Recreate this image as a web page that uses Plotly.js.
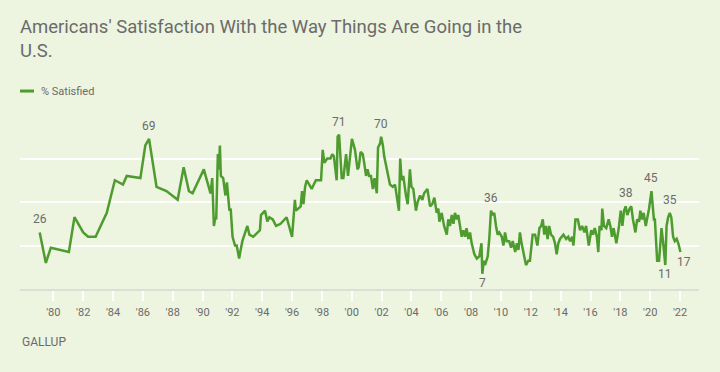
<!DOCTYPE html>
<html>
<head>
<meta charset="utf-8">
<script src="https://cdn.plot.ly/plotly-3.0.1.min.js"></script>
<style>
html,body{margin:0;padding:0;background:#EDF4DF;}
#chart{width:720px;height:372px;}
</style>
</head>
<body>
<div id="chart"></div>
<script>
// Survey dates and % satisfied
var surveyDates = [
"1979-02-01","1979-07-01","1979-11-01","1981-01-15","1981-06-01","1982-01-01","1982-05-01","1982-11-01",
"1983-08-01","1984-02-15","1984-09-01","1984-12-01","1985-11-01","1986-03-01","1986-06-01","1986-12-01",
"1987-08-01","1988-05-01","1988-09-25","1989-02-01","1989-05-01","1990-02-01","1990-07-15","1990-08-25",
"1990-10-05","1990-11-10","1990-12-01","1991-01-10","1991-02-05","1991-03-01","1991-03-25","1991-05-20",
"1991-07-15","1991-08-20","1991-10-20","1991-11-20","1992-01-05","1992-03-05","1992-04-15","1992-06-15",
"1992-07-01","1992-09-01","1993-01-01","1993-02-20","1993-05-25","1993-11-05","1993-12-01","1994-03-10",
"1994-05-05","1994-06-25","1994-09-15","1994-12-05","1995-03-25","1995-08-20","1996-01-01","1996-03-10",
"1996-04-05","1996-07-30","1996-09-01","1996-10-05","1996-11-15","1996-12-25","1997-04-25","1997-08-05",
"1997-12-10","1998-01-20","1998-03-01","1998-05-10","1998-07-30","1998-09-10","1998-10-20","1998-12-28",
"1999-01-20","1999-02-25","1999-04-30","1999-06-10","1999-08-15","1999-10-01","2000-01-05","2000-03-20",
"2000-05-20","2000-06-20","2000-08-05","2000-09-25","2000-11-01","2000-12-15","2001-01-20","2001-03-01",
"2001-04-15","2001-06-01","2001-07-10","2001-09-05","2001-10-05","2001-11-25","2001-12-20","2002-02-01",
"2002-03-05","2002-05-30","2002-07-25","2002-10-01","2002-11-25","2003-03-01","2003-04-01","2003-05-05",
"2003-06-15","2003-08-20","2003-10-01","2003-11-25","2004-01-01","2004-02-15","2004-04-20","2004-06-01",
"2004-07-30","2004-09-25","2004-11-05","2005-01-25","2005-04-01","2005-05-25","2005-07-15","2005-09-10",
"2005-10-20","2005-11-15","2006-01-10","2006-03-10","2006-05-15","2006-06-20","2006-08-01","2006-09-15",
"2006-10-25","2006-12-01","2007-01-15","2007-02-20","2007-04-05","2007-05-15","2007-06-25","2007-08-05",
"2007-09-10","2007-10-25","2007-12-05","2008-01-15","2008-03-20","2008-05-20","2008-07-20","2008-09-10",
"2008-10-01","2008-11-05","2008-12-05","2009-02-10","2009-03-20","2009-05-01","2009-06-10","2009-07-20",
"2009-09-01","2009-10-10","2009-11-20","2010-01-20","2010-03-01","2010-04-10","2010-05-20","2010-07-20",
"2010-09-05","2010-10-15","2010-12-15","2011-01-25","2011-03-05","2011-04-10","2011-05-20","2011-07-20",
"2011-09-05","2011-11-01","2011-12-10","2012-02-15","2012-04-15","2012-06-10","2012-07-30","2012-09-10",
"2012-10-20","2012-11-25","2013-01-05","2013-02-15","2013-03-25","2013-05-10","2013-07-01","2013-08-15",
"2013-09-25","2013-11-05","2013-12-15","2014-03-10","2014-05-15","2014-07-05","2014-08-20","2014-10-10",
"2014-11-10","2014-12-28","2015-02-25","2015-04-20","2015-06-10","2015-08-05","2015-09-15","2015-11-20",
"2016-01-20","2016-03-01","2016-04-15","2016-06-05","2016-07-10","2016-08-10","2016-09-25","2016-10-15",
"2016-11-25","2017-01-20","2017-03-20","2017-05-01","2017-06-10","2017-07-20","2017-09-25","2017-11-30",
"2018-01-10","2018-02-20","2018-04-01","2018-05-10","2018-06-20","2018-08-15","2018-09-25","2018-11-05",
"2019-01-05","2019-02-15","2019-04-05","2019-05-05","2019-06-15","2019-07-25","2019-09-15","2019-10-25",
"2019-12-05","2020-02-01","2020-04-01","2020-04-25","2020-06-20","2020-08-05","2020-10-05","2020-11-15",
"2021-01-05","2021-02-05","2021-03-15","2021-04-25","2021-06-01","2021-07-15","2021-08-25","2021-10-10",
"2021-11-20","2022-01-10"
];
var satisfiedPct = [
26,12,19,17,33,26,24,24,
35,50,48,52,51,66,69,47,
45,41,56,45,44,55,44,51,
29,33,32,62,55,66,52,51,
43,49,36,37,24,20,20,14,
16,22,29,25,24,27,34,36,
31,33,32,29,30,33,24,41,
36,38,45,39,47,50,46,50,
50,64,58,60,60,62,61,50,
70,71,51,51,62,52,69,64,
55,56,63,62,58,52,55,52,
52,46,51,44,65,67,70,66,
61,54,48,47,48,36,60,50,
52,43,39,55,47,46,36,40,
43,41,44,46,38,39,42,35,
37,31,35,29,25,32,29,34,
30,35,32,34,29,24,27,24,
28,23,26,21,16,14,15,21,
7,13,11,15,23,36,34,35,
29,25,26,24,20,26,22,22,
19,22,17,21,18,26,21,15,
11,13,13,25,25,20,28,29,
32,25,29,23,29,25,24,21,
16,21,23,25,23,24,22,24,
20,32,32,27,29,26,29,20,
27,25,28,24,17,29,27,37,
29,28,32,29,24,28,21,29,
36,29,36,38,34,37,38,32,
26,32,31,36,32,35,29,33,
37,45,32,32,13,13,28,21,
11,29,33,35,33,24,22,23,
21,17
];
// Labelled readings
var labelDates  = ["1979-02-01","1986-06-01","1999-02-25","2001-12-20","2008-10-01","2009-05-01","2018-05-10","2020-02-01","2021-01-05","2021-04-25","2022-01-10"];
var labelValues = [26,69,71,70,7,36,38,45,11,35,17];
var labelBelow  = [false,false,false,false,true,false,false,false,true,false,true];
var tickYears = [1980,1982,1984,1986,1988,1990,1992,1994,1996,1998,2000,2002,2004,2006,2008,2010,2012,2014,2016,2018,2020,2022];

var green = '#4E9C2F';
var gray = '#6B6B6B';
var font = 'Roboto, "Liberation Sans", Arial, sans-serif';

var anns = labelDates.map(function(d, i){
  var below = labelBelow[i];
  var a = {x: d, y: labelValues[i], xref:'x', yref:'y', text: String(labelValues[i]),
    showarrow:false, font:{family:font, size:12, color:gray},
    xanchor:'center', yanchor:'middle', yshift: below ? -9 : 13};
  if (i === labelDates.length-1) { a.xshift = 4; a.yshift = -10; }
  return a;
});
anns.push({xref:'paper', yref:'paper', x:(39-20)/679, y:(289.3-91)/174.3, xanchor:'left', yanchor:'middle',
  text:'% Satisfied', showarrow:false, font:{family:font, size:11, color:gray}});
anns.push({xref:'paper', yref:'paper', x:0, y:(289.3-342)/174.3, xanchor:'left', yanchor:'middle',
  text:'GALLUP', showarrow:false, font:{family:font, size:12, color:gray}});

var trace = {x: surveyDates, y: satisfiedPct, type:'scatter', mode:'lines', name:'% Satisfied',
  line:{color:green, width:2.5}, showlegend:false, hoverinfo:'x+y'};

var layout = {
  width:720, height:372,
  paper_bgcolor:'#EDF4DF', plot_bgcolor:'#EDF4DF',
  margin:{l:20, r:21, t:115, b:83, pad:0},
  title:{text:"Americans' Satisfaction With the Way Things Are Going in the<br>U.S.",
    font:{family:font, size:18.5, color:gray}, x:20/720, xanchor:'left', xref:'container',
    y:1-33/372, yanchor:'top', yref:'container'},
  xaxis:{type:'date', range:['1977-10-07','2023-04-10'],
    tickvals: tickYears.map(function(y){return y+'-01-01';}),
    ticktext: tickYears.map(function(y){return "'"+String(y).slice(2);}),
    showgrid:false, zeroline:false, showline:true, linecolor:'#DCDFD6', linewidth:2,
    ticks:'outside', ticklen:10, tickwidth:2, tickcolor:'#FFFFFF', ticklabelstandoff:2,
    tickfont:{family:font, size:11, color:gray}, fixedrange:true},
  yaxis:{range:[0,80], tickvals:[20,40,60,80], showticklabels:false, showgrid:true,
    gridcolor:'#FFFFFF', gridwidth:2, zeroline:false, showline:false, fixedrange:true},
  shapes:[{type:'line', xref:'paper', yref:'paper', x0:0, x1:14/679,
    y0:(289.3-91)/174.3, y1:(289.3-91)/174.3, line:{color:green, width:3}}],
  annotations: anns
};
Plotly.newPlot('chart', [trace], layout, {displayModeBar:false, staticPlot:true});
</script>
</body>
</html>
